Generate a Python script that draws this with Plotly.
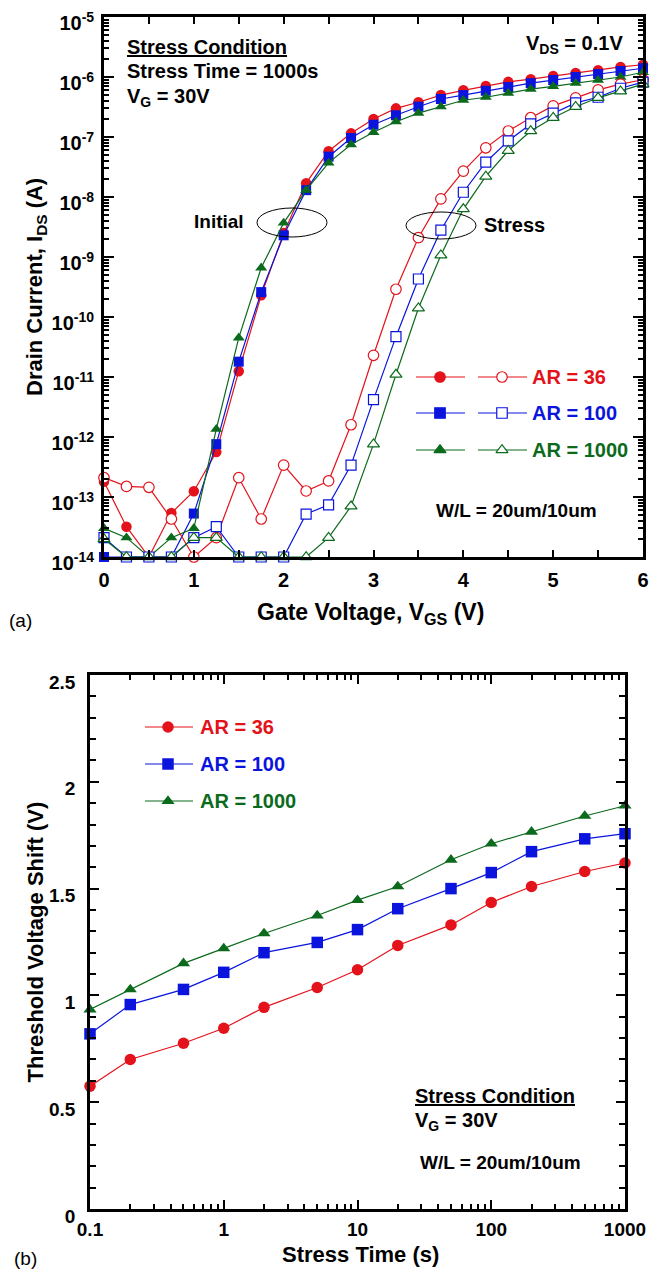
import plotly.graph_objects as go

W, H = 650, 1273

# ---------------- data: panel (a) ----------------
vgs = [0, 0.25, 0.5, 0.75, 1.0, 1.25, 1.5, 1.75, 2.0, 2.25, 2.5, 2.75, 3.0,
       3.25, 3.5, 3.75, 4.0, 4.25, 4.5, 4.75, 5.0, 5.25, 5.5, 5.75, 6.0]

ids_init_ar36 = [1.8e-13, 3.2e-14, 1e-14, 5.4e-14, 1.25e-13, 5.6e-13, 1.25e-11, 2.3e-10,
                 2.5e-9, 1.7e-8, 5.8e-8, 1.15e-7, 2.0e-7, 3.0e-7, 3.8e-7, 5.0e-7, 6.0e-7,
                 7.1e-7, 8.3e-7, 9.2e-7, 1.04e-6, 1.17e-6, 1.3e-6, 1.47e-6, 1.6e-6]
ids_init_ar100 = [1e-14, 1e-14, 1e-14, 1e-14, 5.3e-14, 7.6e-13, 1.8e-11, 2.6e-10,
                  2.3e-9, 1.3e-8, 4.7e-8, 9.6e-8, 1.6e-7, 2.3e-7, 3.2e-7, 4.3e-7, 5.0e-7,
                  5.9e-7, 6.8e-7, 7.9e-7, 8.9e-7, 1.0e-6, 1.12e-6, 1.26e-6, 1.4e-6]
ids_init_ar1000 = [3e-14, 2.1e-14, 1e-14, 2.1e-14, 3e-14, 1.35e-12, 4.5e-11, 6.6e-10,
                   3.7e-9, 1.3e-8, 3.7e-8, 7.5e-8, 1.2e-7, 1.8e-7, 2.5e-7, 3.2e-7, 4.1e-7,
                   4.6e-7, 5.4e-7, 6.3e-7, 7.0e-7, 7.9e-7, 8.9e-7, 1.0e-6, 1.2e-6]

ids_str_ar36 = [2.1e-13, 1.5e-13, 1.45e-13, 4.3e-14, 1e-14, 2.1e-14, 2.1e-13, 4.3e-14,
                3.4e-13, 1.26e-13, 1.85e-13, 1.6e-12, 2.3e-11, 2.9e-10, 2.1e-9, 9.3e-9,
                2.7e-8, 6.6e-8, 1.26e-7, 2.1e-7, 3.3e-7, 4.5e-7, 6.1e-7, 7.6e-7, 9.0e-7]
ids_str_ar100 = [2.1e-14, 1e-14, 1e-14, 1e-14, 2.1e-14, 3.2e-14, 1e-14, 1e-14,
                 1e-14, 5.2e-14, 7.4e-14, 3.4e-13, 4.2e-12, 4.7e-11, 4.3e-10, 2.8e-9,
                 1.2e-8, 3.8e-8, 8.6e-8, 1.65e-7, 2.5e-7, 3.7e-7, 4.6e-7, 6.5e-7, 8.2e-7]
ids_str_ar1000 = [2e-14, 1e-14, 1e-14, 1e-14, 2.1e-14, 2.1e-14, 1e-14, 1e-14,
                  1e-14, 1e-14, 2.1e-14, 7e-14, 7.6e-13, 1.1e-11, 1.4e-10, 1.07e-9,
                  6.3e-9, 2.2e-8, 5.9e-8, 1.26e-7, 2.1e-7, 3.2e-7, 4.5e-7, 5.8e-7, 7.6e-7]

decade_exponents_a = [-14, -13, -12, -11, -10, -9, -8, -7, -6, -5]

# ---------------- data: panel (b) ----------------
stress_time = [0.1, 0.2, 0.5, 1, 2, 5, 10, 20, 50, 100, 200, 500, 1000]
dvth_ar36 = [0.575, 0.70, 0.776, 0.846, 0.944, 1.037, 1.12, 1.234, 1.33, 1.435, 1.51, 1.58, 1.62]
dvth_ar100 = [0.82, 0.957, 1.028, 1.108, 1.20, 1.248, 1.308, 1.406, 1.50, 1.575, 1.673, 1.733, 1.757]
dvth_ar1000 = [0.934, 1.028, 1.15, 1.22, 1.29, 1.374, 1.446, 1.51, 1.635, 1.71, 1.766, 1.84, 1.888]

labels = ["AR = 36", "AR = 100", "AR = 1000"]
decade_values_b = [0.1, 1, 10, 100, 1000]
decade_labels_b = ["0.1", "1", "10", "100", "1000"]

RED = "#e3121b"
BLUE = "#0a14dc"
GREEN = "#0b6a1c"
colors = [RED, BLUE, GREEN]
symbols = ["circle", "square", "triangle-up"]
FONT = "Liberation Sans, Arial, Helvetica, sans-serif"

fig = go.Figure()

init_sets = [ids_init_ar36, ids_init_ar100, ids_init_ar1000]
str_sets = [ids_str_ar36, ids_str_ar100, ids_str_ar1000]
msize_a = [10.5, 10, 10.5]

for ys, c, s, ms in zip(init_sets, colors, symbols, msize_a):
    fig.add_trace(go.Scatter(x=vgs, y=ys, mode="lines+markers", xaxis="x", yaxis="y",
                             line=dict(color=c, width=1.2),
                             marker=dict(symbol=s, size=ms, color=c, line=dict(width=0)),
                             cliponaxis=False, showlegend=False))
for ys, c, s, ms in zip(str_sets, colors, symbols, msize_a):
    fig.add_trace(go.Scatter(x=vgs, y=ys, mode="lines+markers", xaxis="x", yaxis="y",
                             line=dict(color=c, width=1.2),
                             marker=dict(symbol=s, size=ms, color="white", line=dict(color=c, width=1.2)),
                             cliponaxis=False, showlegend=False))

b_sets = [dvth_ar36, dvth_ar100, dvth_ar1000]
msize_b = [11.5, 11.5, 11.5]
for ys, c, s, ms in zip(b_sets, colors, symbols, msize_b):
    fig.add_trace(go.Scatter(x=stress_time, y=ys, mode="lines+markers", xaxis="x2", yaxis="y2",
                             line=dict(color=c, width=1.2),
                             marker=dict(symbol=s, size=ms, color=c, line=dict(width=0)),
                             cliponaxis=False, showlegend=False))

# ---------------- legend samples on a pixel overlay ----------------
leg_a_rows = [377, 413, 450]
leg_b_rows = [727, 764, 801]
for yy, c, s in zip(leg_a_rows, colors, symbols):
    for (x0, x1, xm, fill) in [(416, 465, 440, c), (478, 527, 502, "white")]:
        fig.add_trace(go.Scatter(x=[x0, x1], y=[yy, yy], mode="lines", xaxis="x3", yaxis="y3",
                                 line=dict(color=c, width=1.2), showlegend=False, hoverinfo="skip"))
        fig.add_trace(go.Scatter(x=[xm], y=[yy], mode="markers", xaxis="x3", yaxis="y3",
                                 marker=dict(symbol=s, size=10.5, color=fill, line=dict(color=c, width=1.2)),
                                 showlegend=False, hoverinfo="skip"))
for yy, c, s in zip(leg_b_rows, colors, symbols):
    fig.add_trace(go.Scatter(x=[145, 193], y=[yy, yy], mode="lines", xaxis="x3", yaxis="y3",
                             line=dict(color=c, width=1.2), showlegend=False, hoverinfo="skip"))
    fig.add_trace(go.Scatter(x=[168], y=[yy], mode="markers", xaxis="x3", yaxis="y3",
                             marker=dict(symbol=s, size=11.5, color=c), showlegend=False, hoverinfo="skip"))

annotations = []


def ann(text, x, y, size=20, color="black", xanchor="left", bold=True, angle=0):
    annotations.append(dict(text=("<b>%s</b>" % text) if bold else text, x=x, y=y,
                            xref="x3", yref="y3", xanchor=xanchor, yanchor="middle",
                            showarrow=False, textangle=angle,
                            font=dict(family=FONT, size=size, color=color)))


# panel (a) texts
ann("<u>Stress Condition</u>", 125, 47)
ann("Stress Time = 1000s", 125, 71)
ann("V<sub>G</sub> = 30V", 125, 97)
ann("V<sub>DS</sub> = 0.1V", 625, 44, xanchor="right")
ann("Initial", 246, 221, size=19, xanchor="right")
ann("Stress", 482, 225)
for yy, c, t in zip(leg_a_rows, colors, labels):
    ann(t, 530, yy, color=c)
ann("W/L = 20um/10um", 434, 510, size=19)
ann("Drain Current, I<sub>DS</sub> (A)", 20, 287, size=22, angle=-90)
ann("Gate Voltage, V<sub>GS</sub> (V)", 370, 613, size=23, xanchor="center")
ann("(a)", 20, 620, size=19, bold=False, xanchor="center")

# panel (b) texts
for yy, c, t in zip(leg_b_rows, colors, labels):
    ann(t, 198, yy, color=c)
ann("<u>Stress Condition</u>", 413, 1096)
ann("V<sub>G</sub> = 30V", 413, 1121)
ann("W/L = 20um/10um", 418, 1162, size=19)
ann("Threshold Voltage Shift (V)", 20, 942, size=22, angle=-90)
ann("Stress Time (s)", 360, 1254, size=22, xanchor="center")
ann("(b)", 25, 1258, size=19, bold=False, xanchor="center")

shapes = [
    dict(type="circle", xref="x3", yref="y3", x0=257, x1=327, y0=208, y1=237,
         line=dict(color="black", width=1)),
    dict(type="circle", xref="x3", yref="y3", x0=406, x1=476, y0=212, y1=239,
         line=dict(color="black", width=1)),
]


def px_x(p):
    return p / W


def px_y(p):
    return 1 - p / H


def tfont(size):
    return dict(family=FONT, size=size, color="black", weight="bold")


axis_common = dict(showline=True, linecolor="black", linewidth=2.8, mirror="ticks",
                   ticks="inside", tickcolor="black", tickwidth=2, showgrid=False,
                   zeroline=False, automargin=False)

fig.update_layout(
    width=W, height=H, autosize=False,
    margin=dict(l=0, r=0, t=0, b=0, pad=0, autoexpand=False),
    paper_bgcolor="white", plot_bgcolor="rgba(0,0,0,0)",
    xaxis=dict(domain=[px_x(104), px_x(643)], anchor="y", range=[0, 6], dtick=1, tick0=0,
               ticklen=7, ticklabelstandoff=3, tickfont=tfont(20),
               minor=dict(dtick=0.5, ticks="inside", ticklen=7, tickwidth=2, tickcolor="black"),
               **axis_common),
    yaxis=dict(domain=[px_y(557), px_y(17)], anchor="x", type="log", range=[-14, -5],
               tickvals=[10.0 ** e for e in decade_exponents_a],
               ticktext=["10<sup>%d</sup>" % e for e in decade_exponents_a],
               ticklen=10, ticklabelshift=6, ticklabelstandoff=3, tickfont=tfont(20),
               minor=dict(dtick="D1", ticks="inside", ticklen=5, tickwidth=1.5, tickcolor="black"),
               **axis_common),
    xaxis2=dict(domain=[px_x(90), px_x(625)], anchor="y2", type="log", range=[-1, 3],
                tickvals=decade_values_b, ticktext=decade_labels_b, ticklen=9,
                ticklabelstandoff=1, tickfont=tfont(19),
                minor=dict(dtick="D1", ticks="inside", ticklen=5, tickwidth=1.5, tickcolor="black"),
                **axis_common),
    yaxis2=dict(domain=[px_y(1209), px_y(675)], anchor="x2", range=[0, 2.5], dtick=0.5, tick0=0,
                ticklen=9, ticklabelshift=7, ticklabelstandoff=8, tickfont=tfont(19),
                minor=dict(dtick=0.1, ticks="inside", ticklen=6, tickwidth=2, tickcolor="black"),
                **axis_common),
    xaxis3=dict(domain=[0, 1], anchor="y3", range=[0, W], visible=False, fixedrange=True, automargin=False),
    yaxis3=dict(domain=[0, 1], anchor="x3", range=[H, 0], visible=False, fixedrange=True, automargin=False),
    annotations=annotations,
    shapes=shapes,
)

fig.write_html("out.html",
               post_script="document.body.style.margin='0';document.body.style.padding='0';"
                           "document.documentElement.style.overflow='hidden';")
